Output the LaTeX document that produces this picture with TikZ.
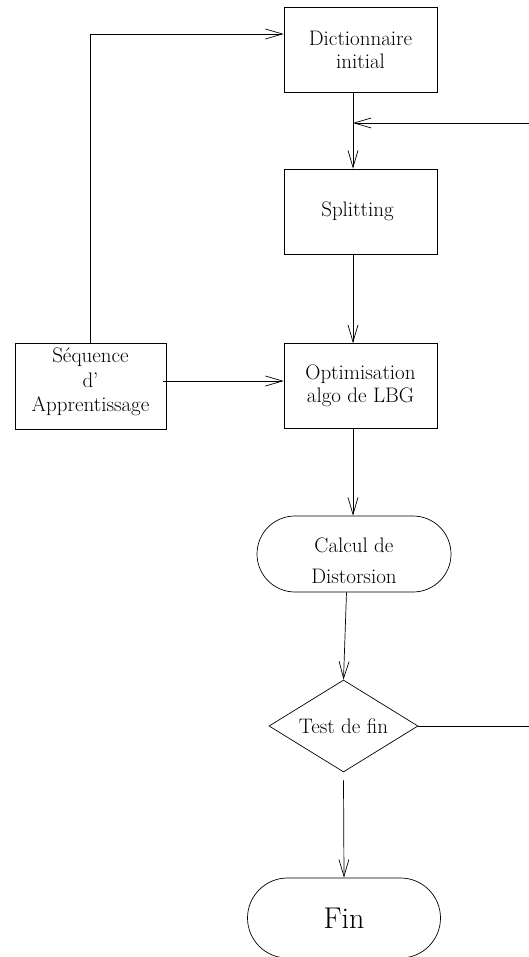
\documentclass[tikz,border=0pt]{standalone}
\usetikzlibrary{arrows.meta,shapes.geometric,shapes.misc,calc}
\begin{document}
\begin{tikzpicture}[x=1pt,y=-1pt,
  every node/.style={font=\fontsize{21}{23}\selectfont},
  box/.style={draw, line width=0.7pt, minimum width=153pt, minimum height=85pt, inner sep=0pt, align=center},
  term/.style={draw, line width=0.7pt, rounded rectangle, inner sep=0pt, align=center},
  dec/.style={draw, line width=0.7pt, diamond, aspect=1.6, minimum width=149pt, minimum height=92pt, inner sep=0pt},
  arr/.style={-{Straight Barb[length=17pt,width=10pt]}, line width=0.7pt},
  con/.style={line width=0.7pt}]
\useasboundingbox (0,0) rectangle (529,957);
\coordinate (ax) at (353,0);
\coordinate (c1) at (0,34);
\coordinate (c2) at (0,381);
\coordinate (fbR) at (532,123);

\node[box] (dict) at (360.5,49.5) {Dictionnaire\\initial};
\node[box] (split) at (360.5,211.5) {\hspace*{-6pt}Splitting};
\node[box] (optim) at (360.5,386) {Optimisation\\algo de LBG};
\node[box, minimum width=151pt, minimum height=86pt, font=\fontsize{21}{24.5}\selectfont] (seq) at (90.5,386) {\raisebox{-1.5pt}[0pt][0pt]{\begin{tabular}{@{}c@{}}Séquence\\d’\\Apprentissage\end{tabular}}};
\node[term, minimum width=194pt, minimum height=76pt, font=\fontsize{21}{31}\selectfont] (calc) at (354,554) {\raisebox{-13pt}[0pt][0pt]{\begin{tabular}{@{}c@{}}Calcul de\\Distorsion\end{tabular}}};
\node[dec] (test) at (343.5,726) {Test de fin};
\node[term, minimum width=193pt, minimum height=80pt, font=\fontsize{30}{32}\selectfont] (fin) at (344,918) {Fin};

\draw[arr] (dict.south -| ax) -- (split.north -| ax);
\draw[arr] (split.south -| ax) -- (optim.north -| ax);
\draw[arr] (optim.south -| ax) -- (calc.north -| ax);
\draw[arr] ([xshift=-7.5pt]calc.south) -- (test.north);
\draw[arr] ([yshift=-8pt]test.south) -- (fin.north);
\draw[arr] (seq.north) |- (dict.west |- c1);
\draw[arr] ([xshift=-3pt]seq.east |- c2) -- (optim.west |- c2);
\draw[arr] (test.east) -| (fbR) -- (ax |- fbR);
\end{tikzpicture}
\end{document}
